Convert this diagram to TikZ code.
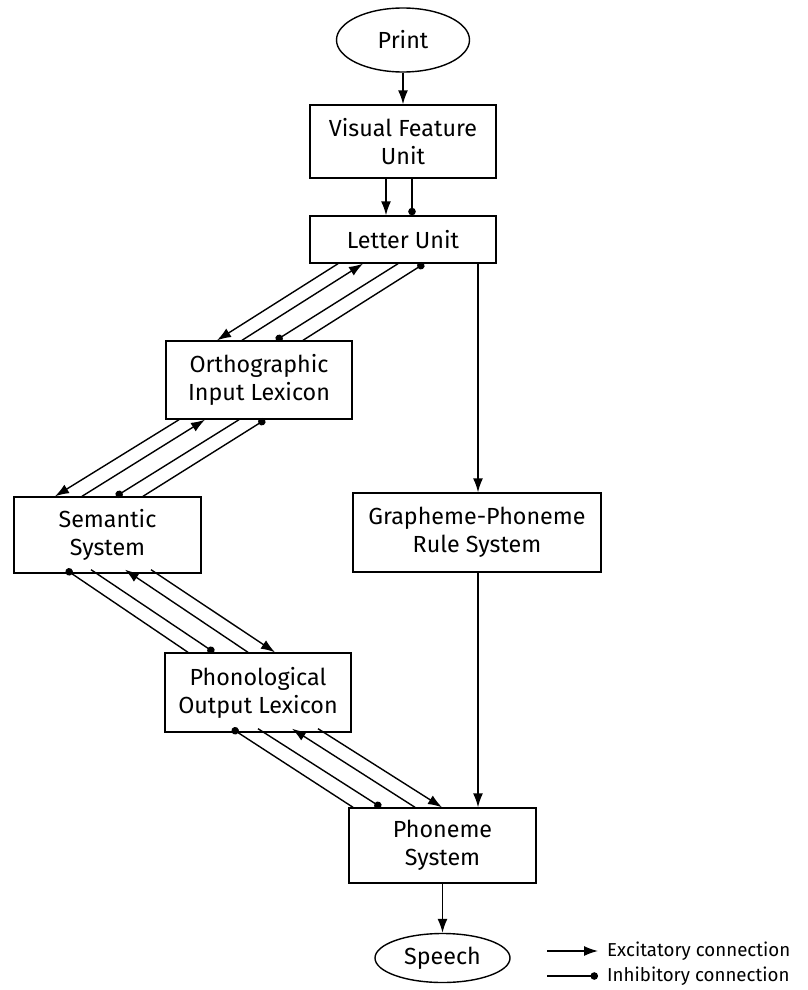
\documentclass[tikz,border=0pt]{standalone}
\usepackage{fontspec}
\setmainfont{Fira Sans}
\usetikzlibrary{arrows.meta,shapes.geometric}
\begin{document}
\begin{tikzpicture}[x=1pt,y=-1pt,
  box/.style={draw,line width=1.4pt,rectangle,align=center,inner sep=0pt,
    font=\fontsize{23.3}{28}\selectfont},
  oval/.style={draw,line width=1.4pt,ellipse,inner sep=0pt,
    font=\fontsize{23.3}{28}\selectfont},
  link/.style={line width=1.4pt},
  exc/.style={link,-{Latex[length=14pt,width=10pt]}},
  inh/.style={link,-{Circle[length=7.5pt]}},
  legendtext/.style={anchor=west,inner sep=0pt,font=\fontsize{18.7}{22}\selectfont}]
\useasboundingbox (0,0) rectangle (807,990);

% processing units
\node[oval,minimum width=133pt,minimum height=64pt] (print) at (403,40) {Print};
\node[box,minimum width=186pt,minimum height=73pt] (vfu) at (403,141.5) {Visual Feature\\Unit};
\node[box,minimum width=186pt,minimum height=47pt] (letter) at (403,239.5) {Letter Unit};
\node[box,minimum width=186pt,minimum height=78pt] (ortho) at (259,380) {Orthographic\\Input Lexicon};
\node[box,minimum width=187pt,minimum height=76pt] (sem) at (107.5,535) {Semantic\\System};
\node[box,minimum width=186pt,minimum height=79pt] (phon) at (258,692.5) {Phonological\\Output Lexicon};
\node[box,minimum width=248pt,minimum height=79pt] (gpr) at (477,532.5) {Grapheme-Phoneme\\Rule System};
\node[box,minimum width=187pt,minimum height=75pt] (phoneme) at (442.5,845.5) {Phoneme\\System};
\node[oval,minimum width=135pt,minimum height=49pt] (speech) at (442.5,958) {Speech};

% feed-forward path
\draw[exc] (print) -- (vfu);
\draw[exc] ([xshift=-17pt]vfu.south) -- ([xshift=-17pt]letter.north);
\draw[inh] ([xshift=9pt]vfu.south) -- ([xshift=9pt]letter.north);

% letter unit <-> orthographic input lexicon
\draw[exc] ([xshift=-65pt]letter.south) -- ([xshift=-42pt]ortho.north);
\draw[exc] ([xshift=-17pt]ortho.north) -- ([xshift=-40pt]letter.south);
\draw[inh] ([xshift=-5pt]letter.south) -- ([xshift=17pt]ortho.north);
\draw[inh] ([xshift=44pt]ortho.north) -- ([xshift=21pt]letter.south);

% orthographic input lexicon <-> semantic system
\draw[exc] ([xshift=-80pt]ortho.south) -- ([xshift=-52.5pt]sem.north);
\draw[exc] ([xshift=-25.5pt]sem.north) -- ([xshift=-54pt]ortho.south);
\draw[inh] ([xshift=-20pt]ortho.south) -- ([xshift=8.5pt]sem.north);
\draw[inh] ([xshift=35.5pt]sem.north) -- ([xshift=6pt]ortho.south);

% semantic system <-> phonological output lexicon
\draw[inh] ([xshift=-70pt]phon.north) -- ([xshift=-41.5pt,yshift=4pt]sem.south);
\draw[inh] ([xshift=-16.5pt,yshift=4pt]sem.south) -- ([xshift=-44pt]phon.north);
\draw[exc] ([xshift=-10pt]phon.north) -- ([xshift=17.5pt,yshift=4pt]sem.south);
\draw[exc] ([xshift=43.5pt,yshift=4pt]sem.south) -- ([xshift=17pt]phon.north);

% phonological output lexicon <-> phoneme system
\draw[inh] ([xshift=-89.5pt]phoneme.north) -- ([xshift=-26pt,yshift=4pt]phon.south);
\draw[inh] ([xshift=0pt,yshift=4pt]phon.south) -- ([xshift=-61.5pt]phoneme.north);
\draw[exc] ([xshift=-27.5pt]phoneme.north) -- ([xshift=34pt,yshift=4pt]phon.south);
\draw[exc] ([xshift=60pt,yshift=4pt]phon.south) -- ([xshift=-0.5pt]phoneme.north);

% grapheme-phoneme conversion route
\draw[exc] ([xshift=75pt]letter.south) -- ([xshift=1pt]gpr.north);
\draw[exc] ([xshift=1pt]gpr.south) -- ([xshift=35.5pt]phoneme.north);
\draw[exc] (phoneme) -- (speech);

% legend
\coordinate (exA) at (547,951);
\coordinate (exB) at (598,951);
\coordinate (inA) at (547,976);
\coordinate (inB) at (598,976);
\draw[exc] (exA) -- (exB);
\draw[inh] (inA) -- (inB);
\node[legendtext] (exlabel) at (607,951) {Excitatory connection};
\node[legendtext] (inlabel) at (607,976) {Inhibitory connection};
\end{tikzpicture}
\end{document}
